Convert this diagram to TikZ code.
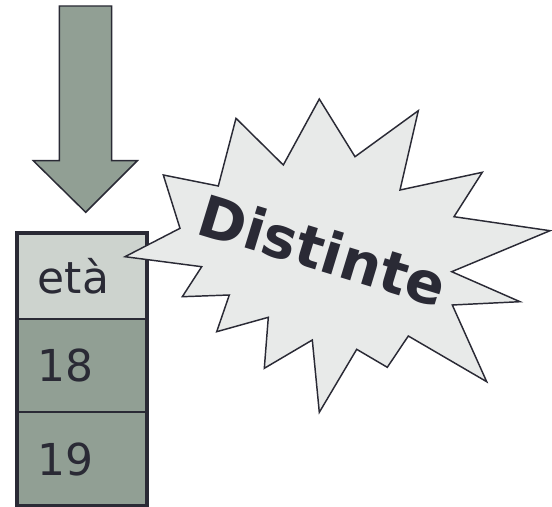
\documentclass[tikz,border=0pt]{standalone}
\usepackage{fontspec}
\setmainfont{DejaVu Sans}
\usetikzlibrary{positioning}
\definecolor{sage}{HTML}{919F94}
\definecolor{paleSage}{HTML}{CDD3CE}
\definecolor{ink}{HTML}{2A2A35}
\definecolor{burstFill}{HTML}{E8EAE9}
\begin{document}
\begin{tikzpicture}[
    x=0.75pt,y=-0.75pt,
    cell/.style={
        draw=ink,
        line width=1.2pt,
        fill=sage,
        text=ink,
        minimum width=97.5pt,
        text width=66pt,
        align=left,
        inner xsep=15.75pt,
        inner ysep=0pt,
        outer sep=0pt,
        font=\fontsize{33}{34}\selectfont
    },
    shape line/.style={
        draw=ink,
        line width=1.1pt,
        line join=miter
    }
]
    \useasboundingbox (0,0) rectangle (552,506);

    % freccia in ingresso
    \draw[shape line, fill=sage] (59.3,6) -- (111.7,6) -- (111.7,160.7) -- (137.3,160.7)
        -- (85.7,212.3) -- (33.3,160.7) -- (59.3,160.7) -- cycle;

    % colonna della tabella
    \node[cell, fill=paleSage, minimum height=64.5pt, anchor=north west] (eta) at (16.7,233) {età};
    \node[cell, minimum height=69.75pt, below=0pt of eta] (v18) {18};
    \node[cell, minimum height=70.5pt, below=0pt of v18] (v19) {19};
    \draw[draw=ink, line width=3pt] (eta.north west) rectangle (v19.south east);

    % esplosione con richiamo
    \draw[shape line, fill=burstFill]
        (319.3,99) -- (355,156.7) -- (418.3,110.7) -- (400,190) -- (482.3,172.3)
        -- (454,216.7) -- (550,230.7) -- (451.7,271.7) -- (520,301.7) -- (452.3,305)
        -- (486.7,381.7) -- (408.3,336) -- (387.3,367.3) -- (356.7,349.3) -- (319.3,412.3)
        -- (312.3,340) -- (264.3,368.3) -- (268.3,317.3) -- (216.7,331.7) -- (229.3,295)
        -- (182.3,296.7) -- (201.7,266.7) -- (125,256.7) -- (180,228.3) -- (163.3,175)
        -- (218.3,186) -- (236,118.3) -- (283.3,165) -- cycle;
    \node[rotate=-17, text=ink, font=\fontsize{43}{44}\selectfont\bfseries] (burstText)
        at (323,250) {Distinte};
\end{tikzpicture}
\end{document}
